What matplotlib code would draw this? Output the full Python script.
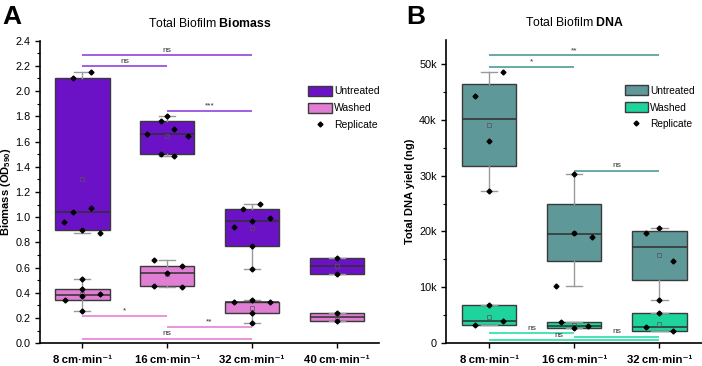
import numpy as np
import matplotlib
matplotlib.use("Agg")
import matplotlib.pyplot as plt
from matplotlib.patches import Patch
from matplotlib.lines import Line2D

plt.rcParams['font.family'] = ['Liberation Sans', 'DejaVu Sans']
plt.rcParams['mathtext.fontset'] = 'custom'
plt.rcParams['mathtext.rm'] = 'Liberation Sans'
plt.rcParams['mathtext.bf'] = 'Liberation Sans:bold'

# ---- data ----
bio_cats = ['8\u2009cm\u00b7min\u207b\u00b9', '16\u2009cm\u00b7min\u207b\u00b9',
            '32\u2009cm\u00b7min\u207b\u00b9', '40\u2009cm\u00b7min\u207b\u00b9']
dna_cats = bio_cats[:3]

# biomass, untreated
bio_u_q1 = [0.897, 1.501, 0.775, 0.548]
bio_u_med = [1.045, 1.657, 0.969, 0.612]
bio_u_q3 = [2.100, 1.763, 1.067, 0.675]
bio_u_lo = [0.874, 1.485, 0.588, 0.548]
bio_u_hi = [2.155, 1.803, 1.106, 0.675]
bio_u_mean = [1.300, 1.640, 0.918, 0.612]
bio_u_pts = [[2.100, 2.155, 1.045, 1.075, 0.963, 0.897, 0.871],
             [1.803, 1.763, 1.697, 1.657, 1.641, 1.498, 1.482],
             [1.106, 1.067, 0.993, 0.969, 0.926, 0.775, 0.588],
             [0.675, 0.548]]
bio_u_jit = [[-0.106, 0.106, -0.106, 0.106, -0.213, 0, 0.21],
             [0, -0.07, 0.08, -0.24, 0.24, -0.07, 0.08],
             [0.1, -0.11, 0.21, 0, -0.21, 0, 0],
             [0, 0]]

# biomass, washed
bio_w_q1 = [0.341, 0.455, 0.243, 0.180]
bio_w_med = [0.384, 0.556, 0.325, 0.211]
bio_w_q3 = [0.434, 0.614, 0.331, 0.238]
bio_w_lo = [0.254, 0.447, 0.164, 0.180]
bio_w_hi = [0.513, 0.662, 0.341, 0.238]
bio_w_mean = [0.390, 0.550, 0.281, 0.210]
bio_w_pts = [[0.513, 0.431, 0.376, 0.394, 0.341, 0.254],
             [0.662, 0.614, 0.556, 0.455, 0.445],
             [0.331, 0.341, 0.328, 0.243, 0.164],
             [0.238, 0.180]]
bio_w_jit = [[0, 0, 0, 0.21, -0.21, 0],
             [-0.16, 0.17, 0, -0.16, 0.17],
             [-0.21, 0, 0.21, 0, 0],
             [0, 0]]

# DNA (ng), untreated
dna_u_q1 = [31700, 14700, 11300]
dna_u_med = [40100, 19500, 17250]
dna_u_q3 = [46400, 24900, 20100]
dna_u_lo = [27300, 10200, 7800]
dna_u_hi = [48600, 30200, 20650]
dna_u_mean = [39050, 19800, 15750]
dna_u_pts = [[48600, 44200, 36100, 27300],
             [30200, 19750, 19100, 10200],
             [20650, 19750, 14800, 7800]]
dna_u_jit = [[0.16, -0.16, 0, 0], [0, 0, 0.21, -0.21], [0, -0.16, 0.16, 0]]

# DNA (ng), washed
dna_w_q1 = [3300, 2650, 2250]
dna_w_med = [4000, 3150, 2960]
dna_w_q3 = [6800, 3800, 5350]
dna_w_lo = [3300, 2650, 2250]
dna_w_hi = [6800, 3800, 5350]
dna_w_mean = [4700, 3200, 3500]
dna_w_pts = [[6800, 4000, 3300], [3800, 2700, 3150], [5350, 2900, 2250]]
dna_w_jit = [[0, 0.16, -0.16], [-0.16, 0, 0.16], [0, -0.16, 0.16]]

# significance bars: (group a, group b, y, label, label x)
bio_sig_u = [(1, 3, 2.285, 'ns', 2.0), (1, 2, 2.197, 'ns', 1.5), (2, 3, 1.84, '***', 2.5)]
bio_sig_w = [(1, 2, 0.217, '*', 1.5), (2, 3, 0.130, '**', 2.5), (1, 3, 0.037, 'ns', 2.0)]
dna_sig_u = [(1, 3, 51500, '**', 2.0), (1, 2, 49500, '*', 1.5), (2, 3, 30900, 'ns', 2.5)]
dna_sig_w = [(1, 2, 1800, 'ns', 1.5), (2, 3, 1200, 'ns', 2.5), (1, 3, 600, 'ns', 1.82)]

# ---- styles ----
c_bio_u, c_bio_w = '#6C12C6', '#E07ED4'
c_bio_ul, c_bio_wl = '#9A50E0', '#E98ADC'
c_dna_u, c_dna_w = '#5F9898', '#1FD49C'
c_dna_ul, c_dna_wl = '#5EA3A3', '#3CE0B0'


def make_stats(q1, med, q3, lo, hi, mean):
    return [dict(q1=a, med=b, q3=c, whislo=d, whishi=e, mean=f, fliers=[])
            for a, b, c, d, e, f in zip(q1, med, q3, lo, hi, mean)]


def draw_boxes(ax, stats, color, pts, jit):
    pos = np.arange(1, len(stats) + 1)
    ax.bxp(stats, positions=pos, widths=0.64, patch_artist=True, showmeans=True,
           showfliers=False,
           boxprops=dict(facecolor=color, edgecolor='#3a3a3a', linewidth=1.0),
           medianprops=dict(color='#303030', linewidth=1.1),
           whiskerprops=dict(color='#9a9a9a', linewidth=1.0),
           capprops=dict(color='#9a9a9a', linewidth=1.0),
           capwidths=0.19,
           meanprops=dict(marker='s', markersize=3.2, markerfacecolor='none',
                          markeredgecolor='#555555', markeredgewidth=0.5),
           zorder=2)
    for p, vals, jj in zip(pos, pts, jit):
        ax.plot(p + np.array(jj), vals, 'D', color='black', markersize=2.5,
                linestyle='none', zorder=4)


def draw_sig(ax, sigs, color, off):
    for a, b, y, lab, lx in sigs:
        ax.plot([a, b], [y, y], color=color, linewidth=1.3, zorder=1,
                solid_capstyle='butt')
        ax.text(lx, y + off, lab, ha='center', va='bottom', fontsize=6,
                color='#333333')


def style_axis(ax):
    for s in ['top', 'right']:
        ax.spines[s].set_visible(False)
    ax.spines['left'].set_linewidth(1.2)
    ax.spines['bottom'].set_linewidth(1.2)
    ax.tick_params(axis='both', direction='out', length=3.5, width=1.0, labelsize=7.8)
    ax.tick_params(axis='y', which='minor', direction='out', length=2, width=0.8)
    ax.tick_params(axis='x', pad=5)
    for lab in ax.get_xticklabels():
        lab.set_fontweight('bold')
        lab.set_fontsize(8.2)


fig = plt.figure(figsize=(7.02, 3.66), dpi=100)

# ---- panel A ----
axA = fig.add_axes([0.057, 0.062, 0.483, 0.827])
draw_sig(axA, bio_sig_u, c_bio_ul, 0.012)
draw_sig(axA, bio_sig_w, c_bio_wl, 0.012)
draw_boxes(axA, make_stats(bio_u_q1, bio_u_med, bio_u_q3, bio_u_lo, bio_u_hi, bio_u_mean),
           c_bio_u, bio_u_pts, bio_u_jit)
draw_boxes(axA, make_stats(bio_w_q1, bio_w_med, bio_w_q3, bio_w_lo, bio_w_hi, bio_w_mean),
           c_bio_w, bio_w_pts, bio_w_jit)
axA.set_xlim(0.5, 4.5)
axA.set_ylim(0, 2.4)
axA.set_yticks(np.arange(0, 2.41, 0.2))
axA.set_yticks(np.arange(0.1, 2.4, 0.2), minor=True)
axA.yaxis.set_major_formatter(plt.FuncFormatter(lambda v, p: f'{v:.1f}'))
axA.set_xticks(range(1, 5))
axA.set_xticklabels(bio_cats)
style_axis(axA)
axA.set_ylabel(r'Biomass (OD$\mathbf{_{590}}$)', fontsize=8, fontweight='bold', labelpad=1.5)
axA.set_title(r'Total Biofilm $\mathbf{Biomass}$', fontsize=8.8, pad=10)
legA = [Patch(facecolor=c_bio_u, edgecolor='#3a3a3a', label='Untreated'),
        Patch(facecolor=c_bio_w, edgecolor='#3a3a3a', label='Washed'),
        Line2D([], [], marker='D', color='black', linestyle='none', markersize=2.5,
               label='Replicate')]
axA.legend(handles=legA, loc='upper left', bbox_to_anchor=(0.775, 0.868), frameon=False,
           fontsize=7.5, handlelength=2.3, handleheight=1.1, handletextpad=0.2,
           labelspacing=0.6, borderpad=0)
fig.text(0.003, 0.985, 'A', fontsize=19, fontweight='bold', va='top', ha='left')

# ---- panel B ----
axB = fig.add_axes([0.636, 0.062, 0.364, 0.828])
draw_sig(axB, dna_sig_u, c_dna_ul, 250)
draw_sig(axB, dna_sig_w, c_dna_wl, 250)
draw_boxes(axB, make_stats(dna_u_q1, dna_u_med, dna_u_q3, dna_u_lo, dna_u_hi, dna_u_mean),
           c_dna_u, dna_u_pts, dna_u_jit)
draw_boxes(axB, make_stats(dna_w_q1, dna_w_med, dna_w_q3, dna_w_lo, dna_w_hi, dna_w_mean),
           c_dna_w, dna_w_pts, dna_w_jit)
axB.set_xlim(0.5, 3.5)
axB.set_ylim(0, 54200)
axB.set_yticks(np.arange(0, 50001, 10000))
axB.set_yticks(np.arange(5000, 54000, 10000), minor=True)
axB.yaxis.set_major_formatter(plt.FuncFormatter(lambda v, p: '0' if v == 0 else f'{int(v / 1000)}k'))
axB.set_xticks(range(1, 4))
axB.set_xticklabels(dna_cats)
style_axis(axB)
axB.set_ylabel('Total DNA yield (ng)', fontsize=8, fontweight='bold', labelpad=3)
axB.set_title(r'Total Biofilm $\mathbf{DNA}$', fontsize=8.8, pad=10)
legB = [Patch(facecolor=c_dna_u, edgecolor='#3a3a3a', label='Untreated'),
        Patch(facecolor=c_dna_w, edgecolor='#3a3a3a', label='Washed'),
        Line2D([], [], marker='D', color='black', linestyle='none', markersize=2.5,
               label='Replicate')]
axB.legend(handles=legB, loc='upper left', bbox_to_anchor=(0.678, 0.868), frameon=False,
           fontsize=7.3, handlelength=2.3, handleheight=1.1, handletextpad=0.2,
           labelspacing=0.65, borderpad=0)
fig.text(0.578, 0.985, 'B', fontsize=19, fontweight='bold', va='top', ha='left')

fig.savefig('out.png', dpi=100)
